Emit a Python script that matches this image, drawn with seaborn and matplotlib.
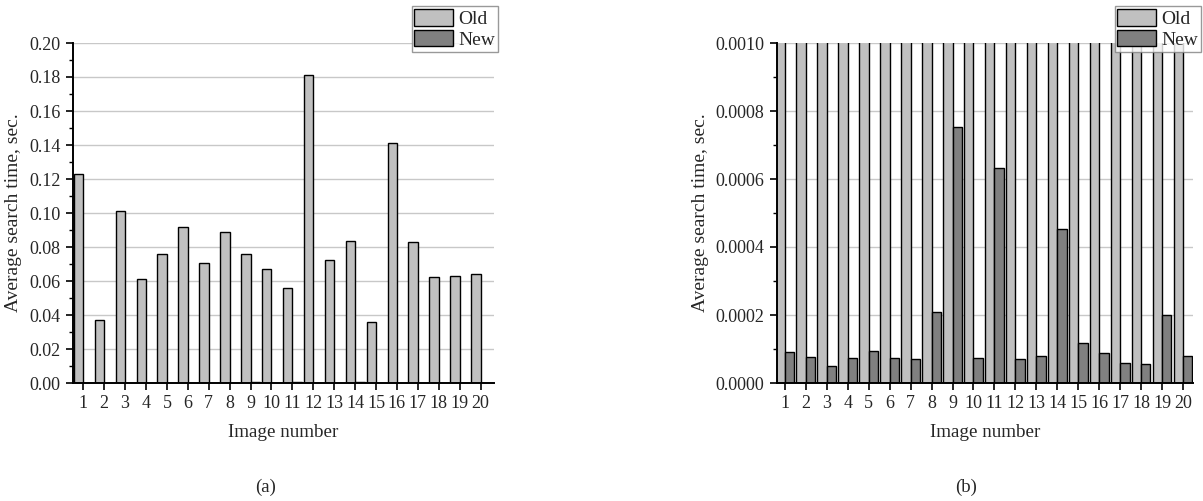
import matplotlib
matplotlib.use("Agg")
import matplotlib.pyplot as plt
from matplotlib.patches import Patch
from matplotlib.ticker import MultipleLocator, FormatStrFormatter
import numpy as np
import pandas as pd
import seaborn as sns

images = list(range(1, 21))
old_times = [0.1228, 0.0373, 0.1014, 0.0613, 0.0758, 0.0919, 0.0707, 0.0888, 0.0756, 0.0668,
             0.0556, 0.1813, 0.0721, 0.0833, 0.0357, 0.1409, 0.0829, 0.0625, 0.0631, 0.0644]
new_times = [0.0000914, 0.0000776, 0.0000510, 0.0000737, 0.0000953, 0.0000737, 0.0000707, 0.000208,
             0.000754, 0.0000747, 0.000633, 0.0000717, 0.0000806, 0.000453, 0.000118, 0.0000884,
             0.0000589, 0.0000550, 0.000199, 0.0000806]
series_names = ["Old", "New"]
series_colors = ["#c0c0c0", "#808080"]

df = pd.DataFrame({
    "image": images * 2,
    "time": old_times + new_times,
    "series": [series_names[0]] * 20 + [series_names[1]] * 20,
})

sns.set_theme(style="white")
plt.rcParams["font.family"] = ["Liberation Serif", "DejaVu Serif"]

W, H = 1203, 501
fig = plt.figure(figsize=(W / 100, H / 100), dpi=100)
ax_a = fig.add_axes([73 / W, (H - 383) / H, 421 / W, 340 / H])
ax_b = fig.add_axes([777 / W, (H - 383) / H, 416 / W, 340 / H])

palette = dict(zip(series_names, series_colors))
configs = [
    (ax_a, (0, 0.2), 0.02, 0.01, "%.2f", (0.51, 20.64), "(a)", 266, 498),
    (ax_b, (0, 0.001), 0.0002, 0.0001, "%.4f", (0.62, 20.48), "(b)", 966, 1201),
]
for ax, ylim, major, minor, fmt, xlim, tag, tag_x, leg_right in configs:
    ax.set_axisbelow(True)
    ax.yaxis.grid(True, color="#c8c8c8", linewidth=1.0)
    sns.barplot(data=df, x="image", y="time", hue="series", hue_order=series_names,
                palette=palette, native_scale=True, width=0.9, dodge=True,
                edgecolor="black", linewidth=1.0, saturation=1, legend=False,
                errorbar=None, ax=ax)
    ax.set_ylim(*ylim)
    ax.set_xlim(*xlim)
    ax.yaxis.set_major_locator(MultipleLocator(major))
    ax.yaxis.set_minor_locator(MultipleLocator(minor))
    ax.yaxis.set_major_formatter(FormatStrFormatter(fmt))
    ax.set_xticks(images)
    ax.set_xticklabels([str(i) for i in images])
    for s in ["top", "right"]:
        ax.spines[s].set_visible(False)
    for s in ["left", "bottom"]:
        ax.spines[s].set_color("black")
        ax.spines[s].set_linewidth(1.4)
    ax.tick_params(axis="both", which="major", direction="out", length=5, width=1.2,
                   color="black", labelsize=13, bottom=True, left=True)
    ax.tick_params(axis="x", which="major", pad=4)
    ax.tick_params(axis="y", which="major", pad=4)
    ax.tick_params(axis="y", which="minor", direction="out", length=3, width=1.0,
                   color="black", left=True)
    ax.set_xlabel("Image number", fontsize=13.7, labelpad=8)
    ax.set_ylabel("Average search time, sec.", fontsize=14, labelpad=5)
    fig.text(tag_x / W, 1 - 487 / H, tag, ha="center", va="center", fontsize=13.5)
    handles = [Patch(facecolor=c, edgecolor="black", linewidth=1.0, label=n)
               for n, c in zip(series_names, series_colors)]
    leg = ax.legend(handles=handles, loc="upper right",
                    bbox_to_anchor=(leg_right / W, 1 - 6 / H), bbox_transform=fig.transFigure,
                    frameon=True, fancybox=False, edgecolor="#808080", fontsize=14,
                    handlelength=2.0, handleheight=0.95, handletextpad=0.25,
                    borderpad=0.15, labelspacing=0.08, borderaxespad=0.0)
    leg.get_frame().set_linewidth(1.0)

fig.savefig("out.png", dpi=100)
